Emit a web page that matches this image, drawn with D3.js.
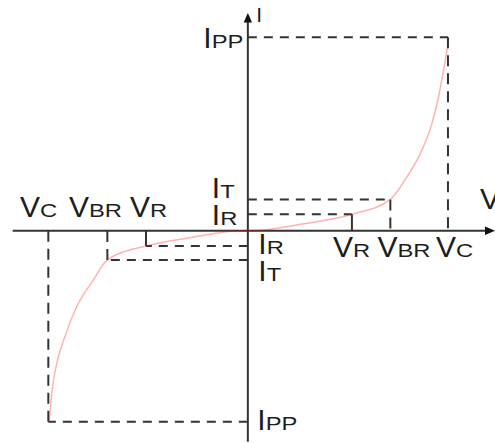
<!DOCTYPE html>
<html>
<head>
<meta charset="utf-8">
<script src="https://cdn.jsdelivr.net/npm/d3@7"></script>
<style>
  html, body { margin: 0; padding: 0; background: #fff; }
  svg { display: block; }
  text { font-family: "Liberation Sans", Arial, sans-serif; fill: #1e1e1e; }
</style>
</head>
<body>
<svg id="chart" width="495" height="443"></svg>
<script>
// ---- data (volts / amps in arbitrary units) ----
const posV = [5.2, 7.12, 10.0];      // VR, VBR, VC (forward side)
const posI = [0.85, 1.62, 10.0];     // IR, IT, IPP
const negV = [-5.09, -7.02, -9.97];  // VR, VBR, VC (reverse side)
const negI = [-0.79, -1.51, -9.88];  // IR, IT, IPP
const vSubs = ["R", "BR", "C"];
const iSubs = ["R", "T", "PP"];

// I-V curve samples
const curveV = [-9.92, -9.8, -9.55, -9.14, -8.55, -7.72, -7.02, -5.09, -2.9, -0.39, 0, 0.37, 2.62, 5.2, 7.12, 7.95, 8.7, 9.2, 9.53, 9.78, 9.98];
const curveI = [-9.79, -8.41, -6.86, -5.48, -3.93, -2.55, -1.51, -0.79, -0.36, 0, 0, 0.01, 0.33, 0.85, 1.62, 2.79, 4.17, 5.55, 6.93, 8.31, 9.51];

// ---- scales ----
const x = d3.scaleLinear().domain([-11.75, 12.3]).range([12.7, 494]);
const y = d3.scaleLinear().domain([-10.91, 11.26]).range([441.7, 13]);
const svg = d3.select("#chart");
const x0 = x(0), y0 = y(0);
const ink = "#333";

// ---- dashed guide lines ----
const guides = svg.append("g").attr("stroke", ink).attr("stroke-width", 2).attr("fill", "none");
function guide(v, i) {
  guides.append("line").attr("x1", x0).attr("y1", y(i)).attr("x2", x(v)).attr("y2", y(i))
    .attr("stroke-dasharray", "9,7");
  guides.append("line").attr("x1", x(v)).attr("y1", y(i)).attr("x2", x(v)).attr("y2", y0)
    .attr("stroke-dasharray", Math.abs(y(i) - y0) < 20 ? null : "11,7");
}
posV.forEach((v, k) => guide(v, posI[k]));
negV.forEach((v, k) => guide(v, negI[k]));

// ---- axes ----
const axes = svg.append("g");
axes.append("line").attr("x1", x.range()[0]).attr("y1", y0).attr("x2", x.range()[1] - 8).attr("y2", y0)
  .attr("stroke", ink).attr("stroke-width", 2);
axes.append("path")
  .attr("d", `M${x.range()[1] + 1},${y0} L${x.range()[1] - 9},${y0 - 4.3} L${x.range()[1] - 9},${y0 + 4.3} Z`)
  .attr("fill", "#111");
axes.append("line").attr("x1", x0).attr("y1", y.range()[0]).attr("x2", x0).attr("y2", y.range()[1] + 8)
  .attr("stroke", ink).attr("stroke-width", 2);
axes.append("path")
  .attr("d", `M${x0},${y.range()[1]} L${x0 - 4.2},${y.range()[1] + 9.5} L${x0 + 4.2},${y.range()[1] + 9.5} Z`)
  .attr("fill", "#111");

// ---- I-V curve ----
const pts = curveV.map((v, k) => [v, curveI[k]]);
svg.append("path")
  .datum(pts)
  .attr("d", d3.line().x(d => x(d[0])).y(d => y(d[1])).curve(d3.curveMonotoneX))
  .attr("fill", "none")
  .attr("stroke", "rgb(255,0,0)")
  .attr("stroke-opacity", 0.3)
  .attr("stroke-width", 1.5);

// ---- labels ----
const mainSize = 30, subSize = 19, subStretch = 1.25;
function label(px, base, main, sub) {
  const t = svg.append("text").attr("x", px).attr("y", base).attr("font-size", mainSize).text(main);
  const w = t.node().getComputedTextLength();
  const sx = px + w;
  svg.append("text")
    .attr("transform", `translate(${sx},${base}) scale(${subStretch},1)`)
    .attr("font-size", subSize)
    .text(sub);
}
// reverse-side voltage labels (above the axis, in a row)
const negVLeft = [20, 69, 130];
negVLeft.forEach((px, k) => label(px, y0 - 14, "V", vSubs[[2, 1, 0][k]]));
// forward-side voltage labels (below the axis)
const posVLeft = [333, 377.5, 436];
posVLeft.forEach((px, k) => label(px, y0 + 26.5, "V", vSubs[k]));
// current labels
label(x0 - 36, y(posI[1]) - 1, "I", "T");
label(x0 - 36, y(posI[0]) + 11, "I", "R");
label(x0 + 10.5, y(negI[0]) + 7.5, "I", "R");
label(x0 + 10.5, y(negI[1]) + 21.5, "I", "T");
label(x0 - 44.5, y(posI[2]) + 11, "I", "PP");
label(x0 + 9.5, y(negI[2]) + 8.5, "I", "PP");
// axis names
svg.append("text").attr("x", x0 + 8.5).attr("y", 22).attr("font-size", 21).text("I");
svg.append("text").attr("x", 480).attr("y", y0 - 22).attr("font-size", 30).text("V");
</script>
</body>
</html>
